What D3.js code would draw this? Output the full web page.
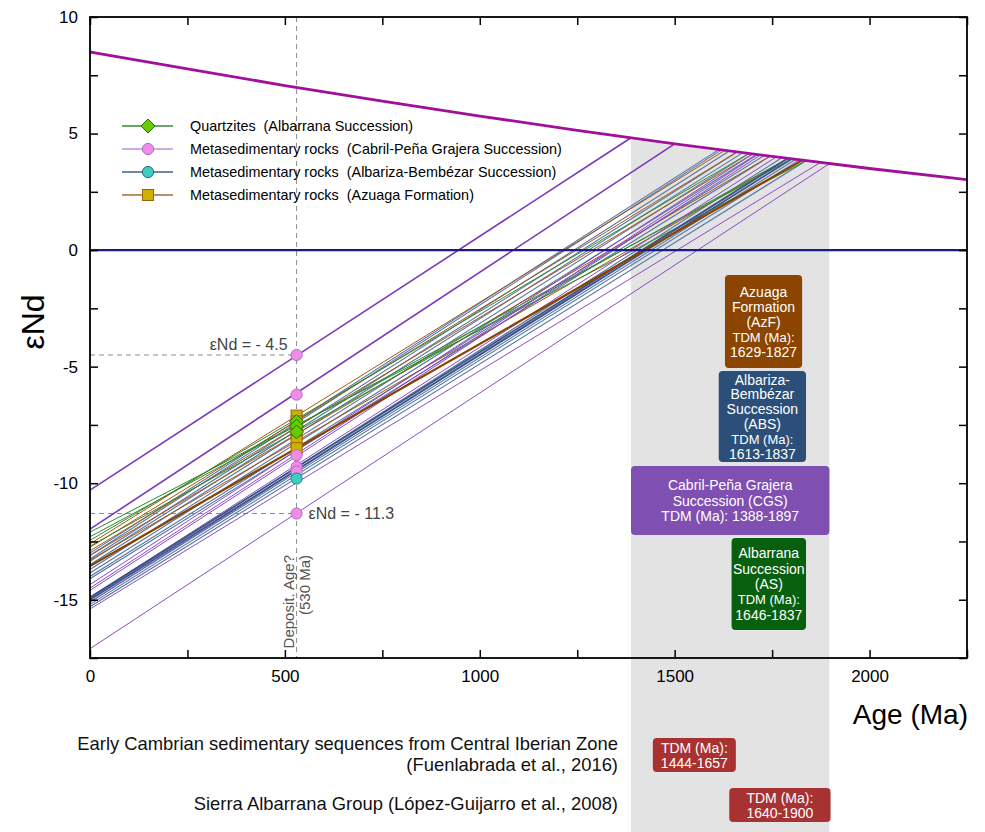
<!DOCTYPE html>
<html>
<head>
<meta charset="UTF-8">
<title>eNd vs Age</title>
<style>
  body { margin: 0; background: #fff; }
  text { font-family: "Liberation Sans", Arial, sans-serif; }
</style>
</head>
<body>
<svg width="985" height="832"></svg>
<script src="https://cdn.jsdelivr.net/npm/d3@7"></script>
<script>
// depleted mantle curve
var dmAge = [0, 250, 500, 750, 1000, 1250, 1500, 1750, 2000, 2250];
var dmEps = [8.5, 7.77, 7.06, 6.39, 5.75, 5.14, 4.56, 4.02, 3.5, 3.02];

// evolution lines: [eNd today, TDM (Ma), eNd at TDM]
var linesABS = [
  [-13.0, 1613, 4.31], [-13.1, 1620, 4.30], [-13.25, 1640, 4.25], [-13.35, 1660, 4.21],
  [-13.5, 1675, 4.18], [-13.7, 1690, 4.14], [-13.85, 1710, 4.10], [-14.0, 1730, 4.06],
  [-14.1, 1745, 4.03], [-14.95, 1775, 3.96], [-15.1, 1810, 3.89], [-15.2, 1820, 3.87],
  [-15.3, 1837, 3.83]
];
var linesABSThick = [[-14.9, 1790, 3.93], [-15.0, 1800, 3.91]];
var linesAzF = [
  [-12.6, 1629, 4.28], [-12.75, 1660, 4.21], [-12.9, 1700, 4.12],
  [-13.1, 1745, 4.03], [-13.3, 1790, 3.93]
];
var linesAzFThick = [[-13.55, 1827, 3.85]];
var linesAS = [[-12.1, 1837, 3.83], [-12.3, 1800, 3.91], [-12.7, 1790, 3.93], [-12.45, 1690, 4.14]];
var linesCGS = [
  [-14.6, 1720, 4.08], [-14.9, 1760, 3.99], [-15.1, 1790, 3.93], [-14.5, 1713, 4.10],
  [-14.35, 1700, 4.12], [-15.4, 1874, 3.76], [-17.1, 1897, 3.71]
];
var linesCGSThick = [[-10.3, 1388, 4.82], [-11.97, 1500, 4.56]];

// samples plotted at the deposition age
var depAge = 530;
var ptsAzF = [-7.1, -7.35, -7.6, -7.9, -8.2, -8.5];
var ptsAS = [-7.35, -7.55, -7.8];
var ptsCGS = [-4.5, -6.2, -8.8, -9.3, -9.5, -11.3];
var ptsABS = [-9.8];

// TDM ranges
var groupNames = ["AzF", "ABS", "CGS", "AS"];
var groupTdm = [[1629, 1827], [1613, 1837], [1388, 1897], [1646, 1837]];
var groupText = [
  ["Azuaga", "Formation", "(AzF)", "TDM (Ma):", "1629-1827"],
  ["Albariza-", "Bembézar", "Succession", "(ABS)", "TDM (Ma):", "1613-1837"],
  ["Cabril-Peña Grajera", "Succession (CGS)", "TDM (Ma): 1388-1897"],
  ["Albarrana", "Succession", "(AS)", "TDM (Ma):", "1646-1837"]
];
var litTdm = [[1444, 1657], [1640, 1900]];

var xTicks = d3.range(0, 2251, 250);
var yTicks = d3.range(-17.5, 10.01, 2.5);

var svg = d3.select("svg");
var x = d3.scaleLinear().domain([0, 2250]).range([90, 967]);
var y = d3.scaleLinear().domain([-17.5, 10]).range([658, 17]);

svg.append("defs").append("clipPath").attr("id", "plot")
  .append("rect").attr("x", 90).attr("y", 17).attr("width", 877).attr("height", 641);

// grey TDM band, under the mantle curve, down to page bottom
var bandTop = [[1388, 4.82], [1500, 4.56], [1750, 4.02], [1897, 3.71]];
var bandPts = bandTop.map(function(d) { return [x(d[0]), y(d[1]) + 2]; });
bandPts.push([x(1897), 832]);
bandPts.push([x(1388), 832]);
svg.append("polygon")
  .attr("points", bandPts.map(function(p) { return p.join(","); }).join(" "))
  .attr("fill", "#e3e3e3");

var plot = svg.append("g").attr("clip-path", "url(#plot)");

// dashed guides
plot.append("line").attr("x1", x(depAge)).attr("x2", x(depAge)).attr("y1", 17).attr("y2", 658)
  .attr("stroke", "#8a8a8a").attr("stroke-dasharray", "5,4").attr("stroke-width", 1);
[-4.5, -11.3].forEach(function(v) {
  plot.append("line").attr("x1", 90).attr("x2", x(depAge)).attr("y1", y(v)).attr("y2", y(v))
    .attr("stroke", "#8a8a8a").attr("stroke-dasharray", "5,4").attr("stroke-width", 1);
});

function drawLines(data, color, w) {
  plot.append("g").selectAll("line").data(data).enter().append("line")
    .attr("x1", x(0)).attr("y1", function(d) { return y(d[0]); })
    .attr("x2", function(d) { return x(d[1]); }).attr("y2", function(d) { return y(d[2]); })
    .attr("stroke", color).attr("stroke-width", w);
}
drawLines(linesABS, "#5676a6", 1.1);
drawLines(linesAzF, "#a8560f", 1);
drawLines(linesAS, "#2c8a2c", 1);
drawLines(linesCGS, "#8a4ac8", 1);
drawLines(linesABSThick, "#3a5684", 1.8);
drawLines(linesAzFThick, "#8a4300", 2.2);
drawLines(linesCGSThick, "#7a38b8", 1.6);

// zero line
plot.append("line").attr("x1", 90).attr("x2", 967).attr("y1", y(0)).attr("y2", y(0))
  .attr("stroke", "#1a1a8a").attr("stroke-width", 2.2);

// depleted mantle
var dmLine = d3.line().x(function(d, i) { return x(dmAge[i]); }).y(function(d) { return y(d); })
  .curve(d3.curveMonotoneX);
plot.append("path").attr("d", dmLine(dmEps)).attr("fill", "none")
  .attr("stroke", "#a0109c").attr("stroke-width", 2.8);

// symbols
function square(g, cx, cy) {
  g.append("rect").attr("x", cx - 5.5).attr("y", cy - 5.5).attr("width", 11).attr("height", 11)
    .attr("fill", "#cdb100").attr("stroke", "#a0600a").attr("stroke-width", 1);
}
function diamond(g, cx, cy) {
  g.append("path").attr("d", "M" + cx + "," + (cy - 7) + "L" + (cx + 7) + "," + cy + "L" + cx + "," + (cy + 7) + "L" + (cx - 7) + "," + cy + "Z")
    .attr("fill", "#66cc00").attr("stroke", "#2a7010").attr("stroke-width", 1);
}
function circle(g, cx, cy, fill, stroke) {
  g.append("circle").attr("cx", cx).attr("cy", cy).attr("r", 5.6)
    .attr("fill", fill).attr("stroke", stroke).attr("stroke-width", 1);
}
var pts = svg.append("g");
ptsAzF.forEach(function(v) { square(pts, x(depAge), y(v)); });
ptsAS.forEach(function(v) { diamond(pts, x(depAge), y(v)); });
ptsCGS.forEach(function(v) { circle(pts, x(depAge), y(v), "#ee8ce8", "#b070c0"); });
ptsABS.forEach(function(v) { circle(pts, x(depAge), y(v), "#3ccfbe", "#2a7a8a"); });

// annotations at deposition age
svg.append("text").attr("x", x(depAge) - 9).attr("y", y(-4.5) - 5).attr("text-anchor", "end")
  .attr("font-size", 16).attr("fill", "#444").text("εNd = - 4.5");
svg.append("text").attr("x", x(depAge) + 12).attr("y", y(-11.3) + 6)
  .attr("font-size", 16).attr("fill", "#444").text("εNd = - 11.3");
var dep = svg.append("g").attr("fill", "#555").attr("font-size", 15).attr("text-anchor", "end");
dep.append("text").attr("transform", "translate(" + (x(depAge) - 3) + ",555) rotate(-90)").text("Deposit. Age?");
dep.append("text").attr("transform", "translate(" + (x(depAge) + 13) + ",555) rotate(-90)").text("(530 Ma)");

// axes
function styleAxis(g) {
  g.select(".domain").remove();
  g.selectAll(".tick line").attr("stroke", "#000").attr("stroke-width", 1.5);
  g.selectAll(".tick text").attr("font-size", 17).attr("fill", "#000")
    .attr("font-family", "'Liberation Sans', Arial, sans-serif");
}
var labX = function(d) { return d % 500 === 0 ? String(d) : ""; };
var labY = function(d) { return d % 5 === 0 ? String(d) : ""; };
svg.append("g").attr("transform", "translate(0,658)")
  .call(d3.axisBottom(x).tickValues(xTicks).tickSize(-8).tickPadding(12).tickFormat(labX)).call(styleAxis);
svg.append("g").attr("transform", "translate(0,17)")
  .call(d3.axisTop(x).tickValues(xTicks).tickSize(-8).tickFormat("")).call(styleAxis);
svg.append("g").attr("transform", "translate(90,0)")
  .call(d3.axisLeft(y).tickValues(yTicks).tickSize(-8).tickPadding(12).tickFormat(labY)).call(styleAxis);
svg.append("g").attr("transform", "translate(967,0)")
  .call(d3.axisRight(y).tickValues(yTicks).tickSize(-8).tickFormat("")).call(styleAxis);
svg.append("rect").attr("x", 90).attr("y", 17).attr("width", 877).attr("height", 641)
  .attr("fill", "none").attr("stroke", "#000").attr("stroke-width", 1.8);

svg.append("text").attr("transform", "translate(44,322) rotate(-90)").attr("text-anchor", "middle")
  .attr("font-size", 32).text("εNd");
svg.append("text").attr("x", 968).attr("y", 724).attr("text-anchor", "end")
  .attr("font-size", 28).text("Age (Ma)");

// legend
var legItems = [
  ["Quartzites  (Albarrana Succession)", "#3a8a3a", "diamond"],
  ["Metasedimentary rocks  (Cabril-Peña Grajera Succession)", "#b892d8", "pink"],
  ["Metasedimentary rocks  (Albariza-Bembézar Succession)", "#3a6090", "cyan"],
  ["Metasedimentary rocks  (Azuaga Formation)", "#a86a30", "square"]
];
var leg = svg.append("g");
legItems.forEach(function(d, i) {
  var ly = 126 + i * 23;
  leg.append("line").attr("x1", 122).attr("x2", 173).attr("y1", ly).attr("y2", ly)
    .attr("stroke", d[1]).attr("stroke-width", 1.3);
  if (d[2] === "diamond") diamond(leg, 148, ly);
  if (d[2] === "pink") circle(leg, 148, ly, "#ee8ce8", "#b070c0");
  if (d[2] === "cyan") circle(leg, 148, ly, "#3ccfbe", "#2a6a8a");
  if (d[2] === "square") square(leg, 148, ly);
  leg.append("text").attr("x", 190).attr("y", ly + 5).attr("font-size", 14.4)
    .style("white-space", "pre").text(d[0]);
});

// TDM boxes inside plot
var boxColor = ["#8b4500", "#2b4f78", "#7f4fb2", "#08600f"];
var boxTop = [275, 371, 466, 538];
var boxH = [93, 91, 69, 92];
var boxLine = [15, 14.8, 15.5, 15.3];
groupNames.forEach(function(n, i) {
  var r = groupTdm[i];
  svg.append("rect").attr("x", x(r[0])).attr("y", boxTop[i]).attr("width", x(r[1]) - x(r[0]))
    .attr("height", boxH[i]).attr("rx", 4).attr("fill", boxColor[i]);
  var cx = (x(r[0]) + x(r[1])) / 2;
  var lines = groupText[i];
  var start = boxTop[i] + boxH[i] / 2 - (lines.length - 1) * boxLine[i] / 2 + 5;
  lines.forEach(function(t, j) {
    svg.append("text").attr("x", cx).attr("y", start + j * boxLine[i]).attr("text-anchor", "middle")
      .attr("font-size", t.indexOf("TDM") === 0 && i !== 2 ? 13 : 14).attr("fill", "#fff").text(t);
  });
});

// literature TDM below the axis
var litTop = [738, 788];
litTdm.forEach(function(r, i) {
  svg.append("rect").attr("x", x(r[0])).attr("y", litTop[i]).attr("width", x(r[1]) - x(r[0]))
    .attr("height", 34).attr("rx", 4).attr("fill", "#a83232");
  var cx = (x(r[0]) + x(r[1])) / 2;
  svg.append("text").attr("x", cx).attr("y", litTop[i] + 15).attr("text-anchor", "middle")
    .attr("font-size", 14).attr("fill", "#fff").text("TDM (Ma):");
  svg.append("text").attr("x", cx).attr("y", litTop[i] + 30).attr("text-anchor", "middle")
    .attr("font-size", 14).attr("fill", "#fff").text(r[0] + "-" + r[1]);
});
var lit = svg.append("g").attr("text-anchor", "end").attr("font-size", 18.4).attr("fill", "#111");
lit.append("text").attr("x", 618).attr("y", 750).text("Early Cambrian sedimentary sequences from Central Iberian Zone");
lit.append("text").attr("x", 618).attr("y", 771).text("(Fuenlabrada et al., 2016)");
lit.append("text").attr("x", 618).attr("y", 810).text("Sierra Albarrana Group (López-Guijarro et al., 2008)");
</script>
</body>
</html>
